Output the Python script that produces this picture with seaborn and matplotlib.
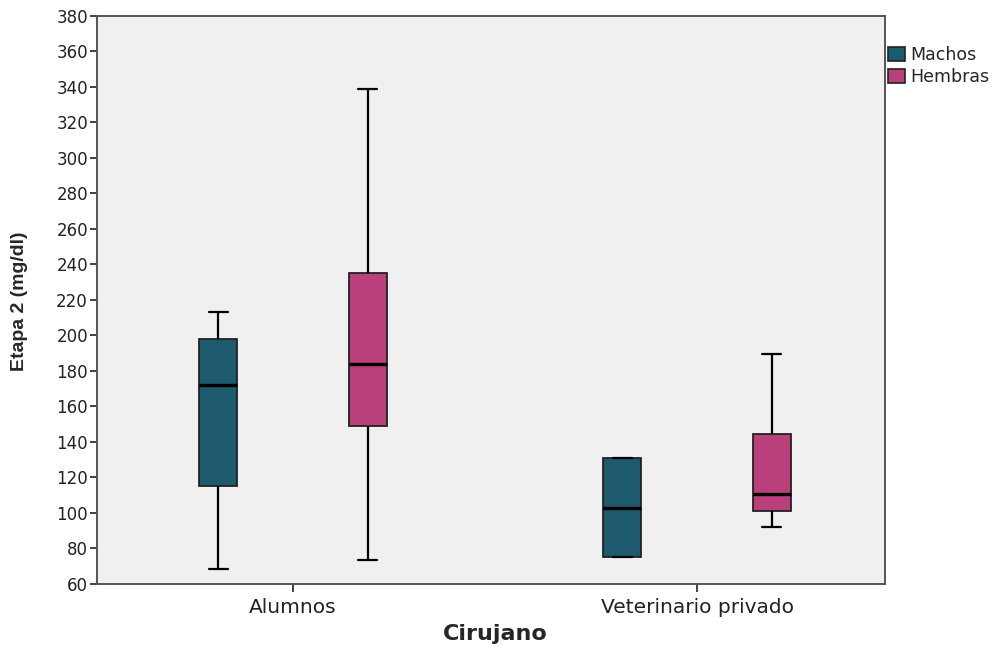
import pandas as pd
import numpy as np
import matplotlib
matplotlib.use("Agg")
import matplotlib.pyplot as plt
import seaborn as sns

# valores (min, Q1, mediana, Q3, max)
cirujanos = ["Alumnos", "Veterinario privado"]
sexos = ["Machos", "Hembras"]
alumnos_machos = [68.5, 115, 172, 198, 213]
alumnos_hembras = [73.5, 149, 184, 235, 339]
privado_machos = [75, 75, 103, 131, 131]
privado_hembras = [92, 101, 110.5, 144.5, 189.5]
colores = {"Machos": "#1d5a6e", "Hembras": "#b9407b"}

rows = []
for cir, sexo, vals in [
    ("Alumnos", "Machos", alumnos_machos),
    ("Alumnos", "Hembras", alumnos_hembras),
    ("Veterinario privado", "Machos", privado_machos),
    ("Veterinario privado", "Hembras", privado_hembras),
]:
    for v in vals:
        rows.append({"Cirujano": cir, "Sexo": sexo, "Etapa": v})
df = pd.DataFrame(rows)

sns.set_style("white")
plt.rcParams["font.family"] = ["DejaVu Sans"]

fig = plt.figure(figsize=(10, 6.53), dpi=100)
ax = fig.add_axes([0.097, 0.1057, 0.788, 0.8698])
ax.set_facecolor("#f0f0f0")

sns.boxplot(
    data=df, x="Cirujano", y="Etapa", hue="Sexo",
    order=cirujanos, hue_order=sexos, palette=colores,
    saturation=1, width=0.74, gap=0.745, whis=(0, 100),
    linecolor="#222222", linewidth=1.3, ax=ax,
    medianprops={"color": "black", "linewidth": 2.4},
    whiskerprops={"color": "black", "linewidth": 1.6},
    capprops={"color": "black", "linewidth": 1.6},
)

ax.set_xlim(-0.485, 1.465)
ax.set_ylim(60, 380)
ax.set_yticks(np.arange(60, 381, 20))

for s in ax.spines.values():
    s.set_color("#555555")
    s.set_linewidth(1.4)

ax.tick_params(axis="y", left=True, length=5, width=1.3, color="#333333",
               pad=1.5, labelsize=12, labelcolor="#222222")
ax.tick_params(axis="x", bottom=True, length=6, width=1.3, color="#333333",
               pad=4, labelsize=14.5, labelcolor="#222222")

ax.set_ylabel("Etapa 2 (mg/dl)", fontsize=14, fontweight="bold",
              family=["Liberation Sans Narrow", "Liberation Sans", "DejaVu Sans"])
ax.yaxis.set_label_coords(-0.087, 0.498)
ax.set_xlabel("Cirujano", fontsize=16, fontweight="bold")
ax.xaxis.set_label_coords(0.506, -0.071)

handles, labels = ax.get_legend_handles_labels()
if ax.legend_ is not None:
    ax.legend_.remove()
for h in handles:
    h.set_edgecolor("#222222")
    h.set_linewidth(1.2)
fig.legend(handles, labels, loc="upper left", bbox_to_anchor=(0.888, 0.93),
           frameon=False, fontsize=12.5, handlelength=1.0, handleheight=0.9,
           handletextpad=0.3, labelspacing=0.25, borderaxespad=0, borderpad=0)

fig.savefig("out.png", dpi=100)
